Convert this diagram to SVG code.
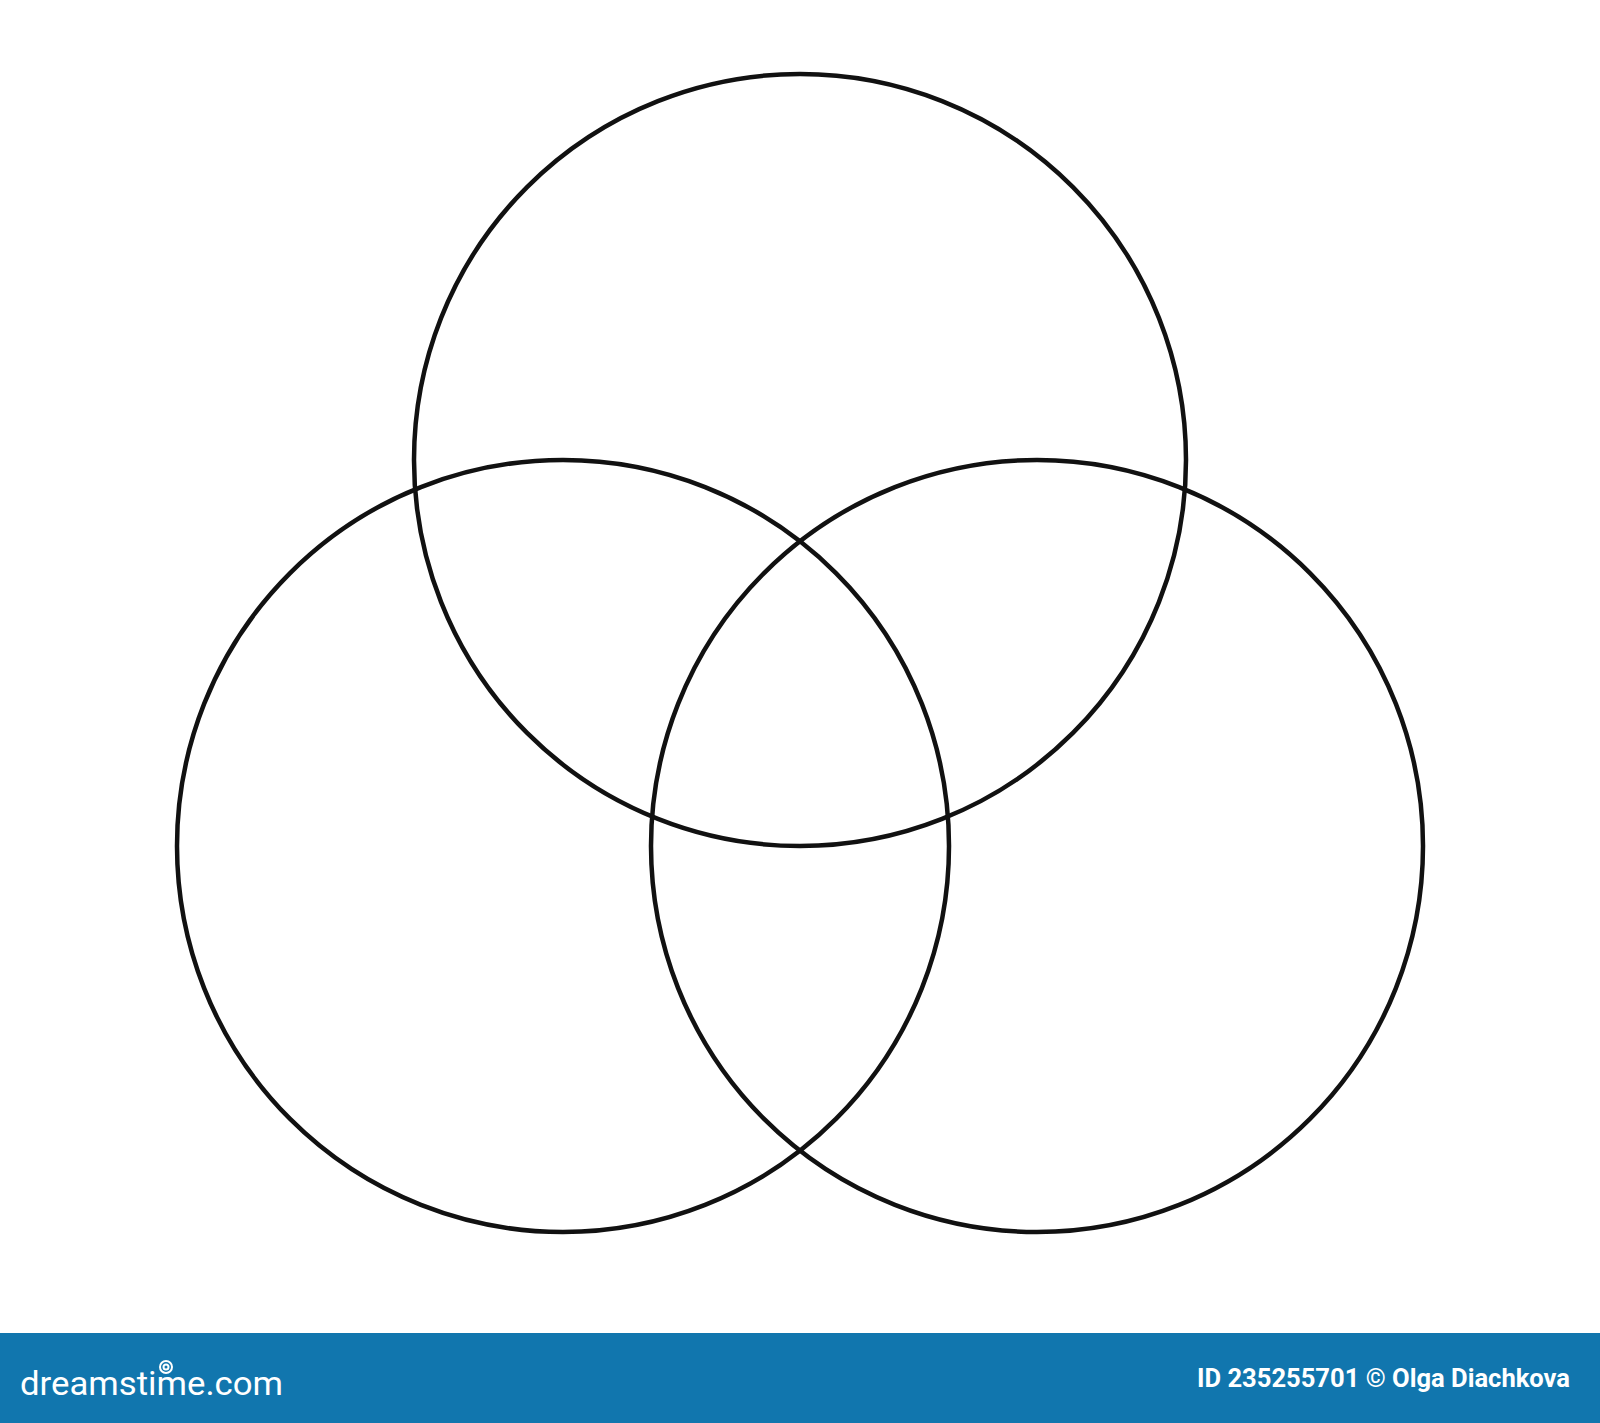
<svg xmlns="http://www.w3.org/2000/svg" width="1600" height="1423" viewBox="0 0 1600 1423">
  <style>
    .ring { fill: none; stroke: #111; stroke-width: 4.5; }
    .bar-text { fill: #ffffff; font-family: Roboto, "Liberation Sans", sans-serif; }
  </style>
  <rect x="0" y="0" width="1600" height="1423" fill="#ffffff"/>
  <g id="circle-top"><circle class="ring" cx="800" cy="460" r="386"/></g>
  <g id="circle-left"><circle class="ring" cx="563" cy="846" r="386"/></g>
  <g id="circle-right"><circle class="ring" cx="1037" cy="846" r="386"/></g>
  <g id="connectors"></g>
  <g id="footer">
    <rect x="0" y="1333" width="1600" height="90" fill="#1176ae"/>
    <text class="bar-text" x="20" y="1395" font-size="34" textLength="263" lengthAdjust="spacingAndGlyphs">dreamstime.com</text>
    <g fill="none" stroke="#ffffff" stroke-width="2">
      <circle cx="166" cy="1367" r="6"/>
      <circle cx="166" cy="1367" r="2.5"/>
    </g>
    <text class="bar-text" x="1197" y="1387" font-size="25.5" font-weight="bold" textLength="373" lengthAdjust="spacingAndGlyphs">ID 235255701 © Olga Diachkova</text>
  </g>
</svg>
